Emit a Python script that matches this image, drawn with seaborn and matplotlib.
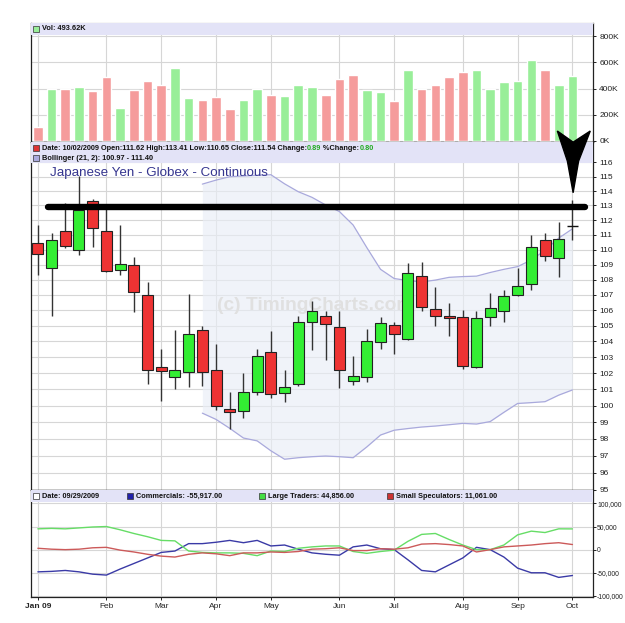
import numpy as np
import pandas as pd
import matplotlib
matplotlib.use("Agg")
import matplotlib.pyplot as plt
import seaborn as sns
from matplotlib.patches import Rectangle, Polygon
from matplotlib.ticker import FixedLocator, FixedFormatter, NullLocator

sns.set_theme(style="white")
plt.rcParams['font.family'] = ['Liberation Sans', 'DejaVu Sans']

# ---------------- data ----------------
dates = pd.date_range('2009-01-02', '2009-10-02', freq='W-FRI')

opens = [110.47, 108.78, 111.23, 110.00, 113.32, 111.23, 108.61, 108.98, 106.99, 102.41,
         101.79, 102.10, 104.73, 102.20, 99.78, 99.66, 100.87, 103.32, 100.77, 101.35,
         105.24, 105.62, 104.92, 101.54, 101.79, 103.99, 105.05, 104.16, 108.22, 106.07,
         105.62, 105.56, 102.37, 105.56, 105.94, 106.97, 107.68, 110.64, 109.41, 111.62]
highs = [111.66, 111.09, 113.18, 115.02, 113.46, 112.90, 111.66, 109.47, 107.86, 103.55,
         104.75, 107.06, 104.96, 103.85, 100.87, 102.00, 103.55, 104.67, 102.18, 105.66,
         106.62, 105.94, 105.94, 103.06, 104.81, 105.56, 105.24, 109.09, 109.14, 107.53,
         106.45, 106.04, 105.94, 107.10, 107.31, 108.80, 110.96, 111.09, 111.86, 113.41]
lows = [108.32, 105.66, 110.13, 109.64, 110.20, 108.48, 108.30, 105.88, 101.32, 100.30,
        101.02, 101.15, 101.20, 99.72, 98.61, 99.27, 100.67, 100.46, 100.20, 101.20,
        103.44, 102.86, 101.11, 101.26, 101.48, 103.55, 103.19, 104.10, 105.92, 104.96,
        104.33, 102.26, 102.30, 104.99, 105.24, 106.93, 107.29, 109.25, 108.15, 110.65]
closes = [109.67, 110.67, 110.22, 112.67, 111.43, 108.57, 109.05, 107.19, 102.20, 102.14,
          102.20, 104.50, 102.10, 100.00, 99.62, 100.87, 103.09, 100.69, 101.13, 105.24,
          105.94, 105.13, 102.20, 101.85, 104.04, 105.18, 104.48, 108.41, 106.20, 105.62,
          105.53, 102.47, 105.51, 106.14, 106.93, 107.55, 110.17, 109.54, 110.69, 111.54]
volume_k = [110, 400, 400, 415, 380, 485, 255, 385, 460, 430,
            560, 325, 310, 335, 240, 310, 400, 350, 340, 425,
            415, 350, 470, 500, 390, 375, 305, 540, 400, 430,
            485, 525, 540, 400, 450, 460, 615, 540, 425, 493.62]
first_volume_dir = 'down'

boll_start = 12
boll_upper = [114.48, 114.76, 115.00, 115.05, 115.10, 115.14, 114.50, 113.95, 113.56, 113.03,
              112.58, 111.66, 110.13, 108.68, 108.07, 107.94, 107.84, 107.97, 108.15, 108.20,
              108.23, 108.47, 108.68, 108.86, 109.30, 109.95, 110.77, 111.40]
boll_lower = [99.55, 99.17, 98.63, 98.05, 97.88, 97.29, 96.79, 96.88, 96.94, 96.98,
              96.94, 96.88, 97.52, 98.23, 98.52, 98.62, 98.71, 98.77, 98.85, 98.93,
              98.89, 99.04, 99.60, 100.14, 100.19, 100.25, 100.65, 100.97]

commercials = [-48000, -47000, -45000, -48000, -53000, -55000, -42000, -30000, -18000, -6000,
               -3000, 13000, 13000, 16000, 20000, 15000, 20000, 8000, 10000, 1000,
               -7000, -10000, -12000, 6000, 10000, 2000, 0, -22000, -45000, -48000,
               -33000, -18000, 5000, 0, -16000, -40000, -50000, -50000, -60000, -55917]
large_traders = [45000, 46000, 45000, 47000, 49000, 50000, 43000, 35000, 28000, 20000,
                 19000, -3000, -6000, -7000, -7000, -8000, -13000, -3000, -4000, 3000,
                 6000, 8000, 8000, -4000, -8000, -4000, -1000, 18000, 33000, 35000,
                 22000, 10000, 0, 0, 10000, 32000, 40000, 37000, 45000, 44856]
small_specs = [3000, 1000, 0, 1000, 4000, 5000, -1000, -5000, -10000, -14000,
               -16000, -10000, -7000, -9000, -13000, -7000, -7000, -5000, -6000, -4000,
               1000, 2000, 4000, -2000, -2000, 2000, 1000, 4000, 12000, 13000,
               11000, 8000, -5000, 0, 6000, 8000, 10000, 13000, 15000, 11061]

resistance = 112.92
price_ticks = list(range(95, 117))
vol_ticks = [0, 200000, 400000, 600000, 800000]
cot_ticks = [-100000, -50000, 0, 50000, 100000]

# ---------------- style ----------------
W, H = 625, 623
GREEN_C = '#33ee33'
RED_C = '#ee3333'
VOL_G = '#99ee99'
VOL_R = '#f59c9c'
GRID = '#d6d6d6'
BAND = '#e3e3f7'
BOLL = '#a9a9dc'

fig = plt.figure(figsize=(W / 100, H / 100), dpi=100)
fig.patch.set_facecolor('white')


def add_ax(top, bottom):
    return fig.add_axes([31 / W, 1 - bottom / H, 562 / W, (bottom - top) / H])


ax_v = add_ax(23, 142)
ax_p = add_ax(142, 490)
ax_c = add_ax(490, 597)

n = len(dates)
idx = np.arange(n)
month_pos = [0] + [i for i in range(1, n) if dates[i].month != dates[i - 1].month]
month_lab = [dates[i].strftime('%b') for i in month_pos]
month_lab[0] = dates[0].strftime('%b %y')

for ax in (ax_v, ax_p, ax_c):
    ax.set_facecolor('white')
    ax.set_xlim(-0.5, n + 0.5)
    ax.set_axisbelow(True)
    ax.xaxis.set_major_locator(FixedLocator(month_pos))
    ax.grid(True, axis='both', color=GRID, lw=0.8)
    ax.yaxis.tick_right()
    ax.tick_params(axis='y', which='both', right=True, left=False, labelsize=6,
                   length=2.5, pad=2, colors='#222222', width=0.7)
    ax.tick_params(axis='x', bottom=True, length=2, width=0.7, labelsize=6, pad=2)
    for s in ax.spines.values():
        s.set_color('#222222')
        s.set_linewidth(0.9)
    ax.set_xlabel('')
    ax.set_ylabel('')

# ---------------- volume ----------------
vol_dir = [first_volume_dir] + ['up' if closes[i] >= closes[i - 1] else 'down' for i in range(1, n)]
vdf = pd.DataFrame({'i': idx, 'vol': np.array(volume_k) * 1000, 'dir': vol_dir})
sns.barplot(data=vdf, x='i', y='vol', hue='dir', palette={'up': VOL_G, 'down': VOL_R},
            width=0.7, dodge=False, legend=False, ax=ax_v, native_scale=True, saturation=1)
ax_v.set_xlim(-0.5, n + 0.5)
ax_v.xaxis.set_major_locator(FixedLocator(month_pos))
ax_v.set_ylim(-8000, 900000)
ax_v.yaxis.set_major_locator(FixedLocator(vol_ticks))
ax_v.yaxis.set_major_formatter(FixedFormatter([f'{v // 1000}K' for v in vol_ticks]))
ax_v.tick_params(axis='x', labelbottom=False, bottom=False)
ax_v.spines['top'].set_color('#bbbbbb')
ax_v.set_xlabel('')
ax_v.set_ylabel('')
ax_v.add_patch(Rectangle((0, 0.9), 1, 0.1, transform=ax_v.transAxes, color=BAND, zorder=4, lw=0))

# ---------------- price ----------------
ax_p.set_yscale('log')
ax_p.set_ylim(94.99, 117.46)
ax_p.yaxis.set_major_locator(FixedLocator(price_ticks))
ax_p.yaxis.set_major_formatter(FixedFormatter([str(t) for t in price_ticks]))
ax_p.yaxis.set_minor_locator(NullLocator())
ax_p.tick_params(axis='x', labelbottom=False, bottom=False)

bidx = np.arange(boll_start, n)
ax_p.fill_between(bidx, boll_lower, boll_upper, color='#e9eef6', alpha=0.65, lw=0, zorder=1)
bdf = pd.DataFrame({'i': np.concatenate([bidx, bidx]),
                    'v': boll_upper + boll_lower,
                    'band': ['upper'] * len(bidx) + ['lower'] * len(bidx)})
sns.lineplot(data=bdf, x='i', y='v', units='band', estimator=None, color=BOLL, lw=0.9,
             ax=ax_p, zorder=2)
ax_p.set_xlabel('')
ax_p.set_ylabel('')

ax_p.text(0.505, 0.53, '(c) TimingCharts.com', transform=ax_p.transAxes, ha='center', va='center',
          fontsize=13.8, fontweight='bold', color='#e0e0e0', zorder=2.2)

for i in range(n):
    o, h, l, c = opens[i], highs[i], lows[i], closes[i]
    ax_p.vlines(i, l, h, color='#333333', lw=1.0, zorder=3)
    if i == n - 1:
        ax_p.hlines(o, i - 0.42, i + 0.42, color='#111111', lw=1.0, zorder=4)
        continue
    col = GREEN_C if c >= o else RED_C
    ax_p.bar(i, max(abs(c - o), 0.05), bottom=min(o, c), width=0.8, color=col,
             edgecolor='#222222', lw=0.8, zorder=4)

ax_p.add_patch(Rectangle((0, 0.94), 1, 0.06, transform=ax_p.transAxes, color=BAND, zorder=4.5, lw=0))
ax_p.text(0.034, 0.911, 'Japanese Yen - Globex - Continuous', transform=ax_p.transAxes,
          fontsize=9.6, color='#35358f', ha='left', va='center', zorder=6)

# annotation: resistance line and down arrow
ax_p.plot([0.73, n - 0.1], [resistance, resistance], color='black', lw=4.6,
          solid_capstyle='round', zorder=7)
arrow = Polygon([(37.9, 118.25), (39.05, 117.45), (40.3, 118.25), (39.45, 116.1),
                 (39.05, 113.88), (38.63, 116.1)], closed=True, color='black',
                zorder=8, clip_on=False)
ax_p.add_patch(arrow)

# ---------------- COT ----------------
cdf = pd.DataFrame({'i': np.tile(idx, 3),
                    'v': commercials + large_traders + small_specs,
                    'grp': ['Commercials'] * n + ['Large Traders'] * n + ['Small Speculators'] * n})
sns.lineplot(data=cdf, x='i', y='v', hue='grp',
             palette={'Commercials': '#3a3aa6', 'Large Traders': '#66dd66',
                      'Small Speculators': '#cc5a5a'},
             lw=1.0, legend=False, ax=ax_c, estimator=None)
ax_c.set_xlim(-0.5, n + 0.5)
ax_c.set_ylim(-102400, 129000)
ax_c.yaxis.set_major_locator(FixedLocator(cot_ticks))
ax_c.yaxis.set_major_formatter(FixedFormatter([f'{t:,}' for t in cot_ticks]))
ax_c.tick_params(axis='y', labelsize=4.9, pad=1, length=2)
ax_c.xaxis.set_major_locator(FixedLocator(month_pos))
ax_c.xaxis.set_major_formatter(FixedFormatter(month_lab))
ax_c.set_xlabel('')
ax_c.set_ylabel('')
for k, t in enumerate(ax_c.get_xticklabels()):
    if k == 0:
        t.set_fontweight('bold')
ax_c.add_patch(Rectangle((0, 0.89), 1, 0.11, transform=ax_c.transAxes, color=BAND, zorder=4, lw=0))

# ---------------- header legends ----------------
fig.canvas.draw()
renderer = fig.canvas.get_renderer()
HS = 5.3


def square(x_px, y_px, face, edge='#333333'):
    fig.add_artist(Rectangle((x_px / W, 1 - (y_px + 3) / H), 6 / W, 6 / H,
                             transform=fig.transFigure, facecolor=face, edgecolor=edge,
                             lw=0.5, zorder=10))


def seq_text(x_px, y_px, pieces):
    x = x_px
    for s, col in pieces:
        t = fig.text(x / W, 1 - y_px / H, s, color=col, fontsize=HS, fontweight='bold',
                     ha='left', va='center', zorder=10)
        x += t.get_window_extent(renderer).width
    return x


square(33, 29, '#99ee99')
seq_text(42, 29, [('Vol: 493.62K', '#111111')])

square(33, 148, '#dd3333')
seq_text(42, 148, [('Date: 10/02/2009 Open:111.62 High:113.41 Low:110.65 Close:111.54 Change:', '#111111'),
                   ('0.89', '#22aa22'), (' %Change:', '#111111'), ('0.80', '#22aa22')])
square(33, 158, '#aaaadd')
seq_text(42, 158, [('Bollinger (21, 2): 100.97 - 111.40', '#111111')])

square(33, 496, 'white')
seq_text(42, 496, [('Date: 09/29/2009', '#111111')])
square(127, 496, '#2222aa')
seq_text(136, 496, [(f'Commercials: {commercials[-1]:,.2f}', '#111111')])
square(259, 496, '#44dd44')
seq_text(268, 496, [(f'Large Traders: {large_traders[-1]:,.2f}', '#111111')])
square(387, 496, '#cc3333')
seq_text(396, 496, [(f'Small Speculators: {small_specs[-1]:,.2f}', '#111111')])

fig.savefig('out.png', dpi=100, facecolor='white')
